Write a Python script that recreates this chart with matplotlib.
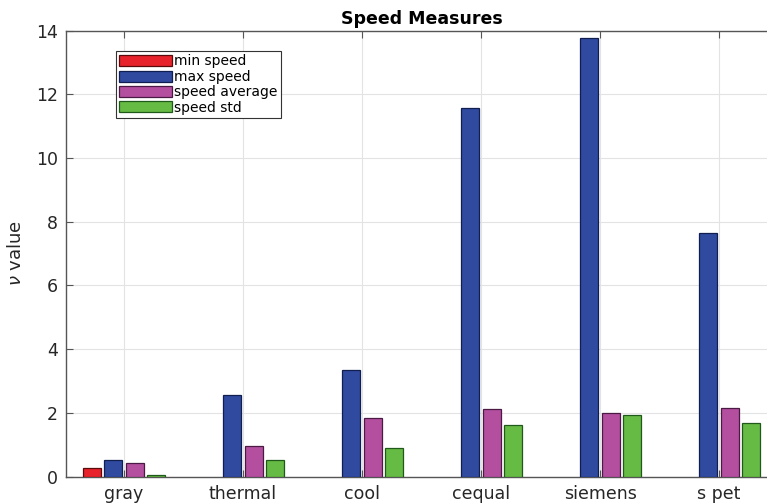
import matplotlib
matplotlib.use("Agg")
import matplotlib.pyplot as plt
import numpy as np

categories = ["gray", "thermal", "cool", "cequal", "siemens", "s pet"]
min_speed = [0.28, 0.0, 0.0, 0.0, 0.0, 0.0]
max_speed = [0.53, 2.57, 3.35, 11.57, 13.75, 7.64]
speed_avg = [0.43, 0.97, 1.84, 2.11, 1.99, 2.16]
speed_std = [0.05, 0.53, 0.88, 1.61, 1.94, 1.67]
series_names = ["min speed", "max speed", "speed average", "speed std"]
yticks = [0, 2, 4, 6, 8, 10, 12, 14]

colors = ["#e8222b", "#2f4a9f", "#b44fa0", "#66bb44"]
edges = ["#5a0a0a", "#101e50", "#4a1a45", "#1f5a1a"]

fig = plt.figure(figsize=(7.67, 5.04), dpi=100)
ax = fig.add_axes([66/767, 27.5/504, 711/767, 446/504])

x = np.arange(1, len(categories) + 1)
offsets = [-0.27, -0.09, 0.09, 0.27]
width = 0.15
for vals, off, c, e, name in zip([min_speed, max_speed, speed_avg, speed_std],
                                 offsets, colors, edges, series_names):
    lw = [0.9 if v > 0 else 0 for v in vals]
    ax.bar(x + off, vals, width=width, color=c, edgecolor=e, linewidth=lw,
           label=name, zorder=3)

ax.set_xlim(0.513, 6.487)
ax.set_ylim(0, 14)
ax.set_xticks(x)
ax.set_xticklabels(categories)
ax.set_yticks(yticks)
ax.grid(True, color="#e3e3e3", linewidth=0.8, zorder=0)
ax.tick_params(direction="in", top=True, right=False, length=5, width=0.8,
               color="#555555", labelsize=12.5, labelcolor="#262626", pad=6)
for s in ["left", "bottom", "top"]:
    ax.spines[s].set_color("#555555")
    ax.spines[s].set_linewidth(1.0)
ax.spines["right"].set_visible(False)

ax.set_title("Speed Measures", fontsize=12.5, fontweight="bold", pad=5)
ax.set_ylabel(r"$\nu$ value", fontsize=13, color="#262626", labelpad=8)

leg = ax.legend(loc="upper left", bbox_to_anchor=(116/767, 1 - 51/504),
                bbox_transform=fig.transFigure, fontsize=10,
                handlelength=3.8, handleheight=0.85, labelspacing=0.1,
                handletextpad=0.15, borderpad=0.25, borderaxespad=0,
                fancybox=False, framealpha=1, edgecolor="#333333")
leg.get_frame().set_linewidth(0.8)
for h in leg.legend_handles:
    h.set_linewidth(0.9)

fig.savefig("out.png", dpi=100)
